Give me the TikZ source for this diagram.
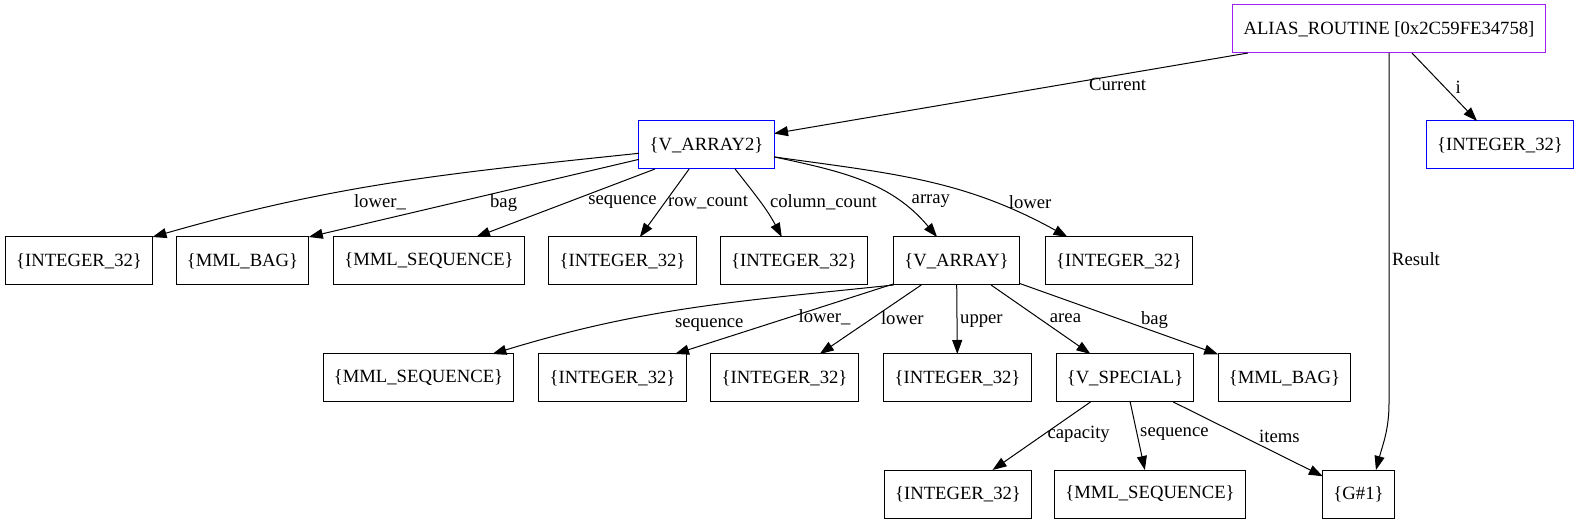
\documentclass[tikz,border=0pt]{standalone}
\usepackage{fontspec}
\setmainfont{Liberation Serif}
\usepackage{tikz}
\usetikzlibrary{arrows.meta}
\definecolor{aliasc}{RGB}{160,32,240}

\begin{document}
\begin{tikzpicture}[x=0.75pt,y=0.75pt,
    box/.style={draw,rectangle,line width=0.75pt,minimum height=36pt,inner xsep=8pt,outer sep=0pt,font=\fontsize{14}{16}\selectfont},
    lbl/.style={font=\fontsize{14}{16}\selectfont,inner sep=2pt},
    edge/.style={-{Triangle[length=10.5pt,width=7.5pt]},line width=0.75pt}]
    \useasboundingbox (0,0) rectangle (1580,-523);
    \node[box,draw=aliasc](alias)at(1389,-29){ALIAS\_ROUTINE [0x2C59FE34758]};
    \node[box,draw=blue](int0)at(1500,-145){\{INTEGER\_32\}};
    \node[box,draw=blue](va2)at(706.5,-145){\{V\_ARRAY2\}};
    \node[box](ia)at(79,-261){\{INTEGER\_32\}};
    \node[box](bga)at(242.5,-261){\{MML\_BAG\}};
    \node[box](sqa)at(429,-261){\{MML\_SEQUENCE\}};
    \node[box](ib)at(622.5,-261){\{INTEGER\_32\}};
    \node[box](ic)at(794,-261){\{INTEGER\_32\}};
    \node[box](va)at(956.5,-261){\{V\_ARRAY\}};
    \node[box](id)at(1119,-261){\{INTEGER\_32\}};
    \node[box](sqb)at(418.5,-378){\{MML\_SEQUENCE\}};
    \node[box](ie)at(612.5,-378){\{INTEGER\_32\}};
    \node[box](if)at(784.5,-378){\{INTEGER\_32\}};
    \node[box](ig)at(957.5,-378){\{INTEGER\_32\}};
    \node[box](vs)at(1125,-378){\{V\_SPECIAL\}};
    \node[box](bgb)at(1284.5,-378){\{MML\_BAG\}};
    \node[box](ih)at(958,-494){\{INTEGER\_32\}};
    \node[box](sqc)at(1150,-494){\{MML\_SEQUENCE\}};
    \node[box](g)at(1358.5,-494){\{G\#1\}};
    \draw[edge](alias)--node[lbl,pos=0.275,below]{Current}(va2);
    \draw[edge](alias)--node[lbl,pos=0.5,right=6pt]{i}(int0);
    \draw[edge](alias.south)--node[lbl,pos=0.59,right]{Result}++(0,-350)to[out=-90,in=75](g.54);
    \draw[edge](va2.187)to[out=186,in=16]node[lbl,pos=0.53,below=5pt]{lower\_}(ia.north east);
    \draw[edge](va2.192)--node[lbl,pos=0.41,below]{bag}(bga.north east);
    \draw[edge](va2.205)--node[lbl,pos=0.48,right=12pt]{sequence}(sqa.27.5);
    \draw[edge](va2)--node[lbl,pos=0.49,right]{row\_count}(ib);
    \draw[edge](va2.-40)to[out=-52,in=118]node[lbl,pos=0.5,right=5pt]{column\_count}(ic.117);
    \draw[edge](va2.-10)to[out=-12,in=130]node[lbl,pos=0.73,right=7pt]{array}(va.129);
    \draw[edge](va2.-10)to[out=-8,in=151]node[lbl,pos=0.75,right=8.5pt]{lower}(id.155);
    \draw[edge](va.south west)to[out=186,in=17]node[lbl,pos=0.45,below=7pt]{sequence}(sqb.18);
    \draw[edge](va.200)--node[lbl,pos=0.48,right=5pt]{lower\_}(ie.21);
    \draw[edge](va)--node[lbl,pos=0.48,right=4pt]{lower}(if);
    \draw[edge](va)--node[lbl,pos=0.52,right]{upper}(ig);
    \draw[edge](va)--node[lbl,pos=0.48,right=6pt]{area}(vs);
    \draw[edge](va)--node[lbl,pos=0.68,above]{bag}(bgb);
    \draw[edge](vs)--node[lbl,pos=0.47,right]{capacity}(ih);
    \draw[edge](vs)--node[lbl,pos=0.47,right]{sequence}(sqc);
    \draw[edge](vs)--node[lbl,pos=0.71,above=7pt]{items}(g);
\end{tikzpicture}
\end{document}
